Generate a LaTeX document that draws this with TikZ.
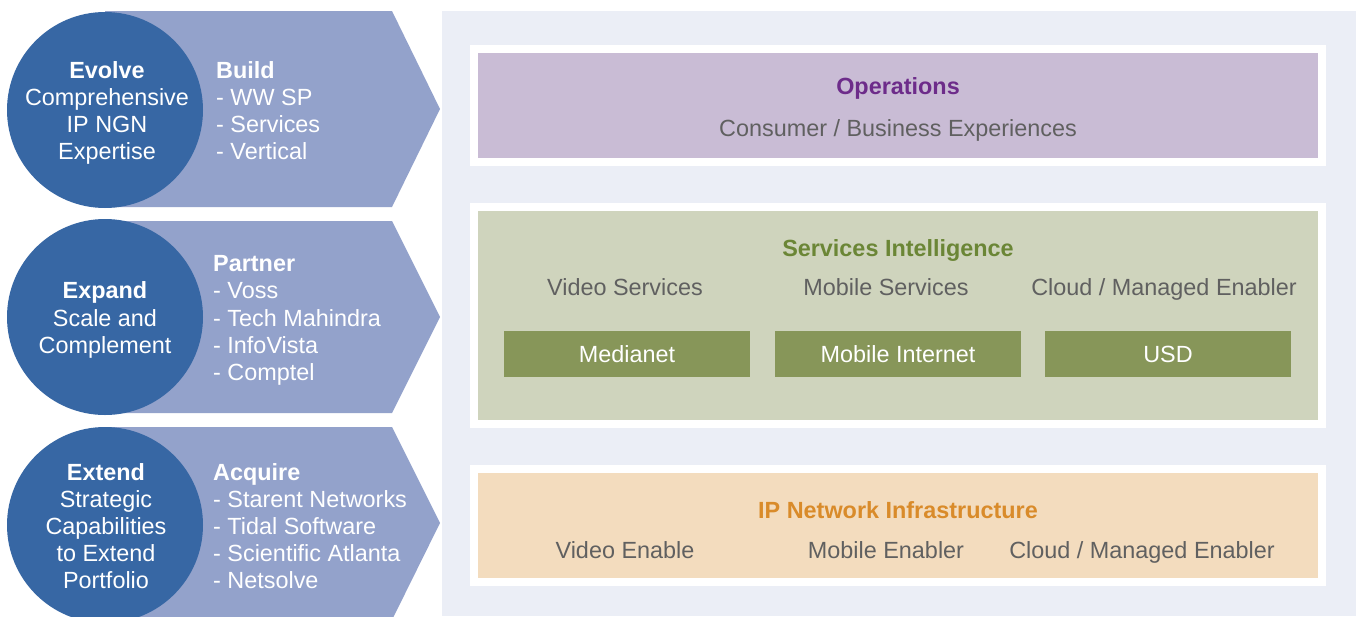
\documentclass[tikz,border=0pt]{standalone}
\usepackage{fontspec}
\setmainfont{Liberation Sans}
\definecolor{circblue}{HTML}{3767A4}
\definecolor{chevcol}{HTML}{93A2CB}
\definecolor{panelbg}{HTML}{EBEEF6}
\definecolor{opsfill}{HTML}{C9BCD5}
\definecolor{opstext}{HTML}{6D2C8A}
\definecolor{greytext}{HTML}{606060}
\definecolor{svcfill}{HTML}{CFD4BD}
\definecolor{svctext}{HTML}{6B8636}
\definecolor{svcbox}{HTML}{879659}
\definecolor{ipfill}{HTML}{F3DCBE}
\definecolor{iptext}{HTML}{D98B2A}
\begin{document}
\begin{tikzpicture}[x=1pt,y=-1pt,
  circ/.style={circle, fill=circblue, minimum size=196pt, inner sep=0pt},
  chev/.style={fill=chevcol},
  wtxt/.style={font=\fontsize{23.4}{27}\selectfont, text=white, inner sep=0pt, anchor=base},
  ltxt/.style={wtxt, anchor=base west},
  gtxt/.style={font=\fontsize{23.4}{27}\selectfont, text=greytext, inner sep=0pt, anchor=base},
  ttl/.style={font=\fontsize{23.4}{27}\selectfont\bfseries, inner sep=0pt, anchor=base},
  outerbox/.style={fill=white, minimum width=856pt, inner sep=0pt},
  innerbox/.style={minimum width=840pt, inner sep=0pt},
  gbox/.style={fill=svcbox, minimum width=246pt, minimum height=46pt, inner sep=0pt, text=white, font=\fontsize{23.4}{27}\selectfont}
]
\useasboundingbox (0,0) rectangle (1356,616);
% right panel
\fill[panelbg] (442,11) rectangle (1356,616);

% chevrons
\fill[chev] (105,11) -- (392,11) -- (440,109) -- (392,207) -- (105,207) -- cycle;
\fill[chev] (105,221) -- (392,221) -- (440,317) -- (392,413) -- (105,413) -- cycle;
\fill[chev] (105,427) -- (392,427) -- (440,523) -- (392,620) -- (105,620) -- cycle;

% circles
\node[circ] (evolve) at (105,110) {};
\node[circ] (expand) at (105,317) {};
\node[circ] (extend) at (105,525) {};

% circle texts
\node[wtxt] (e1) at (107,78) {\bfseries Evolve};
\node[wtxt] (e2) at (107,105) {Comprehensive};
\node[wtxt] (e3) at (107,132) {IP NGN};
\node[wtxt] (e4) at (107,159) {Expertise};

\node[wtxt] (x1) at (105,298) {\bfseries Expand};
\node[wtxt] (x2) at (105,326) {Scale and};
\node[wtxt] (x3) at (105,353) {Complement};

\node[wtxt] (t1) at (106,480) {\bfseries Extend};
\node[wtxt] (t2) at (106,507) {Strategic};
\node[wtxt] (t3) at (106,534) {Capabilities};
\node[wtxt] (t4) at (106,561) {to Extend};
\node[wtxt] (t5) at (106,588) {Portfolio};

% chevron texts
\node[ltxt] (b1) at (216,78) {\bfseries Build};
\node[ltxt] (b2) at (216,105) {- WW SP};
\node[ltxt] (b3) at (216,132) {- Services};
\node[ltxt] (b4) at (216,159) {- Vertical};

\node[ltxt] (p1) at (213,271) {\bfseries Partner};
\node[ltxt] (p2) at (213,298) {- Voss};
\node[ltxt] (p3) at (213,326) {- Tech Mahindra};
\node[ltxt] (p4) at (213,353) {- InfoVista};
\node[ltxt] (p5) at (213,380) {- Comptel};

\node[ltxt] (a1) at (213,480) {\bfseries Acquire};
\node[ltxt] (a2) at (213,507) {- Starent Networks};
\node[ltxt] (a3) at (213,534) {- Tidal Software};
\node[ltxt] (a4) at (213,561) {- Scientific Atlanta};
\node[ltxt] (a5) at (213,588) {- Netsolve};

% operations
\node[outerbox, minimum height=121pt] (opsout) at (898,105.5) {};
\node[innerbox, minimum height=105pt, fill=opsfill] (ops) at (898,105.5) {};
\node[ttl, text=opstext] (opst) at (898,94) {Operations};
\node[gtxt] (opss) at (898,136) {Consumer / Business Experiences};

% services intelligence
\node[outerbox, minimum height=225pt] (svcout) at (898,315.5) {};
\node[innerbox, minimum height=209pt, fill=svcfill] (svc) at (898,315.5) {};
\node[ttl, text=svctext] (svct) at (898,256) {Services Intelligence};
\node[gtxt] (svc1) at (625,295) {Video Services};
\node[gtxt] (svc2) at (886,295) {Mobile Services};
\node[gtxt] (svc3) at (1164,295) {Cloud / Managed Enabler};
\node[gbox] (medianet) at (627,354) {Medianet};
\node[gbox] (mobint) at (898,354) {Mobile Internet};
\node[gbox] (usd) at (1168,354) {USD};

% IP network infrastructure
\node[outerbox, minimum height=121pt] (ipout) at (898,525.5) {};
\node[innerbox, minimum height=105pt, fill=ipfill] (ip) at (898,525.5) {};
\node[ttl, text=iptext] (ipt) at (898,518) {IP Network Infrastructure};
\node[gtxt] (ip1) at (625,558) {Video Enable};
\node[gtxt] (ip2) at (886,558) {Mobile Enabler};
\node[gtxt] (ip3) at (1142,558) {Cloud / Managed Enabler};
\end{tikzpicture}
\end{document}
